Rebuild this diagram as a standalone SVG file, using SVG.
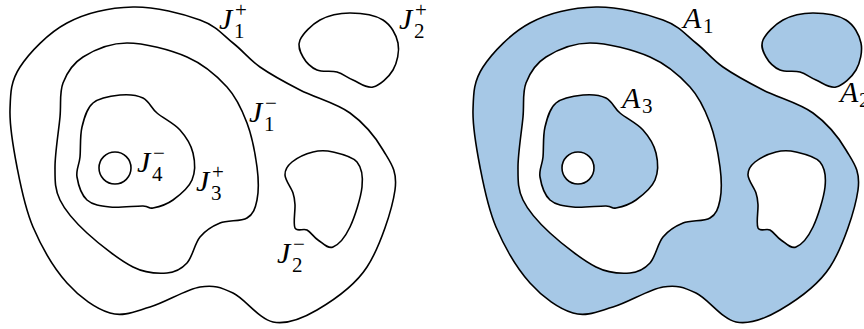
<svg xmlns="http://www.w3.org/2000/svg" xmlns:xlink="http://www.w3.org/1999/xlink" width="864" height="329" viewBox="0 0 864 329">
<style>
.ln{fill:none;stroke:#000;stroke-width:1.6;stroke-linejoin:round}
.bl{fill:#a6c8e6;stroke:#000;stroke-width:1.6;stroke-linejoin:round}
.wh{fill:#fff;stroke:#000;stroke-width:1.6;stroke-linejoin:round}
.m{font-family:"Liberation Serif","DejaVu Serif",serif;font-style:italic;font-size:30px;fill:#000}
.s{font-family:"Liberation Serif","DejaVu Serif",serif;font-size:21px;fill:#000}
</style>
<defs>
<path id="c1p" d="M133,7 C155.2,6.5 183.3,14 200,20 S223,35.2 233,43 S248.8,59.2 260,67 S285,82.3 300,90 S336.2,103 350,113 S375.5,137.2 383,150 S397.7,170.5 395,190 S380,247 367,267 S332.7,300.8 317,310 S287,324.8 273,322 S245.2,298.8 233,293 S213.8,284.7 200,287 S165,302.7 150,307 S123.8,317 110,313 S79.8,297.3 67,283 S41.3,246.3 33,227 S20.8,186.5 17,167 S9.5,126.7 10,110 S10.5,81.5 20,67 S48.2,33 67,23 S110.8,7.5 133,7Z"/>
<path id="c1m" d="M127,43 C144.3,43 170.3,49.7 187,57 S217,76 227,87 S242,109.7 247,123 S255.3,154.2 257,167 S258.7,191.5 257,200 S253.2,214.2 247,218 S227.8,219.8 220,223 S205.5,230.3 200,237 S192.5,257 187,263 S176,272.3 167,273 S146.3,273.7 133,267 S99.2,244.2 87,233 S65.3,211 60,200 S55,180.8 55,167 S58.7,131 60,117 S59.2,93 63,83 S72.3,63.7 83,57 S109.7,43 127,43Z"/>
<path id="c3p" d="M120,95 C128.3,94.2 136.8,95 143,98 S150.8,107.7 157,113 S174,123.3 180,130 S191,144.7 193,153 S195.3,172.2 192,180 S179.5,195.3 173,200 S158,207 153,208 S150.2,206.2 143,206 S119.3,208 110,207 S92.5,205 87,200 S78.2,184.2 77,177 S79.2,165.3 80,157 S79.8,136 82,127 S86.7,108.3 93,103 S111.7,95.8 120,95Z"/>
<circle id="c4m" cx="115" cy="168" r="16"/>
<path id="c2m" d="M313,152 C319.8,150.3 325.7,150.3 333,152 S352.2,156.2 357,162 S363.2,176.2 362,187 S354.8,217 350,227 S338.3,244.8 333,247 S322.3,242.8 318,240 S310.8,232 307,230 S297,232.2 295,228 S295.3,210.8 295,205 S294.7,198 293,193 S285.2,180.2 285,175 S287.3,165.8 292,162 S306.2,153.7 313,152Z"/>
<path id="c2p" d="M350,13 C360.5,13 375,15 383,20 S396.3,34.7 398,43 S397.2,62.7 393,70 S379.7,85.3 373,87 S359,82.5 353,80 S343,73.7 337,72 S322.7,72.5 317,70 S305.8,62 303,57 S297.2,46.2 300,40 S311.7,24.5 320,20 S339.5,13 350,13Z"/>
</defs>

<g id="left">
<g id="J1plus"><use href="#c1p" class="ln"/><text class="m" x="219" y="29">J</text><text class="s" x="235" y="17">+</text><text class="s" x="234" y="38">1</text></g>
<g id="J1minus"><use href="#c1m" class="ln"/><text class="m" x="249" y="122">J</text><text class="s" x="265" y="110">−</text><text class="s" x="264" y="131">1</text></g>
<g id="J3plus"><use href="#c3p" class="ln"/><text class="m" x="196" y="191">J</text><text class="s" x="212" y="179">+</text><text class="s" x="211" y="200">3</text></g>
<g id="J4minus"><use href="#c4m" class="ln"/><text class="m" x="137" y="172">J</text><text class="s" x="153" y="160">−</text><text class="s" x="152" y="181">4</text></g>
<g id="J2minus"><use href="#c2m" class="ln"/><text class="m" x="277" y="263">J</text><text class="s" x="293" y="251">−</text><text class="s" x="292" y="272">2</text></g>
<g id="J2plus"><use href="#c2p" class="ln"/><text class="m" x="399" y="29">J</text><text class="s" x="415" y="17">+</text><text class="s" x="414" y="38">2</text></g>
</g>

<g id="right">
<g id="A1" transform="translate(463,0)"><use href="#c1p" class="bl"/><use href="#c1m" class="wh"/></g>
<g id="A3" transform="translate(463,0)"><use href="#c3p" class="bl"/><use href="#c4m" class="wh"/></g>
<g id="A1hole" transform="translate(463,0)"><use href="#c2m" class="wh"/></g>
<g id="A2" transform="translate(463,0)"><use href="#c2p" class="bl"/></g>
<text class="m" x="683" y="28">A</text><text class="s" x="703" y="33">1</text>
<text class="m" x="622" y="108">A</text><text class="s" x="642" y="113">3</text>
<text class="m" x="840" y="102">A</text><text class="s" x="859" y="107">2</text>
</g>
</svg>
